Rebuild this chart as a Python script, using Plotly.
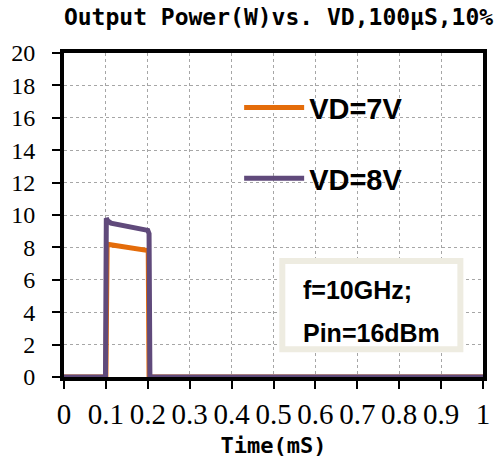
import plotly.graph_objects as go

# ---- data ----
t_7v = [0.0, 0.098, 0.1, 0.103, 0.15, 0.2, 0.201, 0.203, 1.0]
p_7v = [0.0, 0.0, 0.0, 8.2, 8.0, 7.82, 7.8, 0.0, 0.0]

t_8v = [0.0, 0.099, 0.101, 0.104, 0.112, 0.15, 0.2, 0.203, 0.205, 1.0]
p_8v = [0.0, 0.0, 9.8, 9.65, 9.5, 9.28, 9.05, 8.85, 0.0, 0.0]

x_ticks = [0, 0.1, 0.2, 0.3, 0.4, 0.5, 0.6, 0.7, 0.8, 0.9, 1]
x_tick_labels = ["0", "0.1", "0.2", "0.3", "0.4", "0.5", "0.6", "0.7", "0.8", "0.9", "1"]
y_ticks = [0, 2, 4, 6, 8, 10, 12, 14, 16, 18, 20]
y_tick_labels = ["0", "2", "4", "6", "8", "10", "12", "14", "16", "18", "20"]

series_names = ["VD=7V", "VD=8V"]
series_colors = ["#E46C0A", "#604A7B"]

fig = go.Figure()
fig.add_trace(go.Scatter(x=t_7v, y=p_7v, mode="lines", name=series_names[0],
                         legendgroup="a",
                         line=dict(color=series_colors[0], width=5)))
fig.add_trace(go.Scatter(x=t_8v, y=p_8v, mode="lines", name=series_names[1],
                         legendgroup="b",
                         line=dict(color=series_colors[1], width=5)))

serif = "Liberation Serif"

fig.update_layout(
    xaxis=dict(
        range=[0, 1], tickvals=x_ticks, ticktext=x_tick_labels,
        tickfont=dict(family=serif, size=29, color="black"),
        title=dict(text="Time(mS)", standoff=10,
                   font=dict(family="DejaVu Sans Mono", size=22, color="black", weight="bold")),
        showline=True, linecolor="black", linewidth=4, mirror=True,
        ticks="outside", ticklen=8, tickwidth=1.5, tickcolor="black",
        showgrid=True, gridcolor="#A6A6A6", griddash="dot", gridwidth=1,
        zeroline=False, layer="below traces",
    ),
    yaxis=dict(
        range=[0, 20], tickvals=y_ticks, ticktext=y_tick_labels,
        tickfont=dict(family=serif, size=24, color="black"),
        ticklabelstandoff=12,
        showline=True, linecolor="black", linewidth=4, mirror=True,
        ticks="outside", ticklen=8, tickwidth=1.5, tickcolor="black",
        showgrid=True, gridcolor="#A6A6A6", griddash="dot", gridwidth=1,
        zeroline=False, layer="below traces",
    ),
)

fig.add_shape(type="rect", xref="paper", yref="paper",
              x0=0.521, x1=0.946, y0=0.086, y1=0.358,
              fillcolor="white", line=dict(color="#EEECE1", width=6))
fig.add_annotation(xref="paper", yref="paper", x=0.566, y=0.269,
                   xanchor="left", yanchor="middle", showarrow=False,
                   text="f=10GHz;",
                   font=dict(family="Liberation Sans", size=25, color="black", weight="bold"))
fig.add_annotation(xref="paper", yref="paper", x=0.566, y=0.136,
                   xanchor="left", yanchor="middle", showarrow=False,
                   text="Pin=16dBm",
                   font=dict(family="Liberation Sans", size=25, color="black", weight="bold"))

fig.update_layout(
    width=498, height=463,
    margin=dict(l=64, r=8, t=53, b=86),
    paper_bgcolor="white", plot_bgcolor="white",
    title=dict(text="Output Power(W)vs. VD,100µS,10%",
               x=0.512, xref="paper", xanchor="center",
               y=1 - 17 / 463, yanchor="middle",
               font=dict(family="DejaVu Sans Mono", size=23, color="black", weight="bold")),
    showlegend=True,
    legend=dict(x=0.418, y=0.91, xanchor="left", yanchor="top",
                bgcolor="rgba(0,0,0,0)", tracegroupgap=30, itemwidth=60,
                font=dict(family="Liberation Sans", size=29, color="black", weight="bold")),
)

fig.write_html("out.html")
